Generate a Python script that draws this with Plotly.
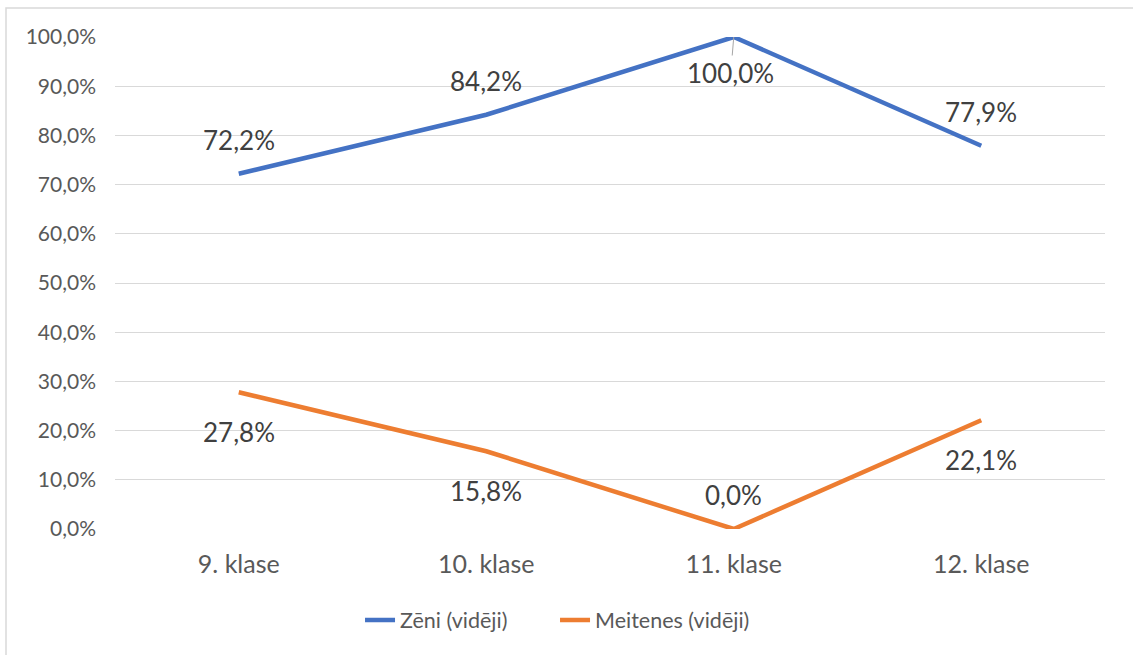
import plotly.graph_objects as go

# Share of boys and girls per grade (averages)
classes = ["9. klase", "10. klase", "11. klase", "12. klase"]
boys = [72.2, 84.2, 100.0, 77.9]
girls = [27.8, 15.8, 0.0, 22.1]
boys_name = "Zēni (vidēji)"
girls_name = "Meitenes (vidēji)"
y_ticks = [0, 10, 20, 30, 40, 50, 60, 70, 80, 90, 100]

BLUE = "#4472C4"
ORANGE = "#ED7D31"
FONT = "Lato"


def pct(v):
    return f"{v:.1f}".replace(".", ",") + "%"


fig = go.Figure()
fig.add_trace(go.Scatter(x=classes, y=boys, mode="lines", name=boys_name,
                         line=dict(color=BLUE, width=4.5)))
fig.add_trace(go.Scatter(x=classes, y=girls, mode="lines", name=girls_name,
                         line=dict(color=ORANGE, width=4.5)))

# data labels: boys above the line (except the peak), girls below (except zero)
boys_pos = ["above", "above", "leader", "above"]
girls_pos = ["below", "below", "above", "below"]
annotations = []
for series, positions in ((boys, boys_pos), (girls, girls_pos)):
    for cat, val, pos in zip(classes, series, positions):
        base = dict(x=cat, y=val, text=pct(val), xref="x", yref="y",
                    font=dict(family=FONT, size=26, color="#404040"))
        if pos == "leader":
            base.update(showarrow=True, arrowhead=0, arrowwidth=1,
                        arrowcolor="#A6A6A6", ax=-3, ay=36, standoff=0)
        else:
            base.update(showarrow=False, yshift=34 if pos == "above" else -40)
        annotations.append(base)

fig.update_layout(
    width=1133, height=655,
    margin=dict(l=115, r=28, t=37, b=126),
    paper_bgcolor="white", plot_bgcolor="white",
    font=dict(family=FONT, color="#595959"),
    showlegend=True,
    legend=dict(orientation="h", x=0.2475, xanchor="left", y=-0.185,
                yanchor="middle", font=dict(family=FONT, size=21.5, color="#595959"),
                entrywidth=150, entrywidthmode="pixels",
                itemwidth=30, tracegroupgap=0),
    annotations=annotations,
    shapes=[dict(type="rect", xref="paper", yref="paper",
                 x0=-0.1101, x1=1.2, y0=-0.4, y1=1.0589,
                 line=dict(color="#D9D9D9", width=1.5), layer="below")],
)
fig.update_xaxes(range=[-0.5, 3.5], showgrid=False, zeroline=False,
                 showline=False, ticks="",
                 tickfont=dict(family=FONT, size=25, color="#595959"),
                 ticklabelstandoff=18)
fig.update_yaxes(range=[0, 100], tickvals=y_ticks,
                 ticktext=[pct(v) for v in y_ticks],
                 showgrid=True, gridcolor="#D9D9D9", gridwidth=1.3,
                 zeroline=False, showline=False, ticks="",
                 tickfont=dict(family=FONT, size=21, color="#595959"),
                 ticklabelstandoff=18)

fig.write_html("out.html")
